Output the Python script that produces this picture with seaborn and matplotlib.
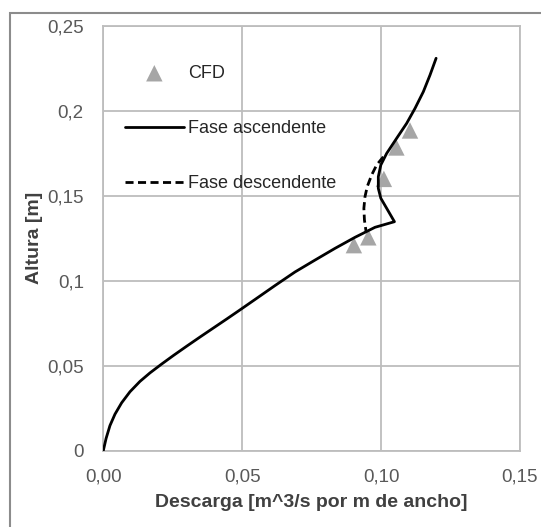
import matplotlib
matplotlib.use("Agg")
import matplotlib.pyplot as plt
import seaborn as sns
import pandas as pd
from matplotlib.patches import Rectangle
from matplotlib.ticker import FixedLocator, FixedFormatter

# ---- data ----
asc_x = [0.0, 0.0010, 0.0024, 0.0042, 0.0066, 0.0096, 0.0132, 0.0168, 0.0210, 0.0252,
         0.0300, 0.0348, 0.0396, 0.0444, 0.0486, 0.0546, 0.0618, 0.0690, 0.0762,
         0.0834, 0.0906, 0.0978, 0.1048, 0.1020, 0.0999, 0.0990, 0.0990, 0.0999,
         0.1020, 0.1056, 0.1092, 0.1122, 0.1152, 0.1176, 0.1198]
asc_y = [0.0, 0.0072, 0.0148, 0.0215, 0.0282, 0.0347, 0.0408, 0.0458, 0.0510, 0.0560,
         0.0615, 0.0669, 0.0722, 0.0775, 0.0822, 0.0890, 0.0972, 0.1052, 0.1122,
         0.1191, 0.1256, 0.1315, 0.1348, 0.1427, 0.1486, 0.1544, 0.1613, 0.1682,
         0.1750, 0.1839, 0.1927, 0.2015, 0.2113, 0.2211, 0.2310]

desc_x = [0.1008, 0.0984, 0.0966, 0.0950, 0.0942, 0.0938, 0.0940, 0.0946]
desc_y = [0.1730, 0.1682, 0.1623, 0.1554, 0.1495, 0.1427, 0.1358, 0.1289]

cfd_x = [0.1104, 0.1055, 0.1010, 0.0954, 0.0902]
cfd_y = [0.1885, 0.1785, 0.1600, 0.1256, 0.1210]

xticks = [0.0, 0.05, 0.10, 0.15]
xtick_labels = ["0,00", "0,05", "0,10", "0,15"]
yticks = [0.0, 0.05, 0.10, 0.15, 0.20, 0.25]
ytick_labels = ["0", "0,05", "0,1", "0,15", "0,2", "0,25"]

x_label = "Descarga [m^3/s por m de ancho]"
y_label = "Altura [m]"
labels = ["CFD", "Fase ascendente", "Fase descendente"]

# ---- styling ----
sns.set_theme(style="whitegrid")
plt.rcParams["font.family"] = ["Liberation Sans", "DejaVu Sans"]

W, H = 541, 527
fig = plt.figure(figsize=(W / 100, H / 100), dpi=100)
ax = fig.add_axes([103.3 / W, 1 - 450.7 / H, (520 - 103.3) / W, (450.7 - 26) / H])

grid_c = "#bdbdbd"
df_asc = pd.DataFrame({"x": asc_x, "y": asc_y})
df_desc = pd.DataFrame({"x": desc_x, "y": desc_y})
df_cfd = pd.DataFrame({"x": cfd_x, "y": cfd_y})

sns.scatterplot(data=df_cfd, x="x", y="y", marker="^", s=140, color="#a6a6a6",
                edgecolor="none", ax=ax, zorder=2, label=labels[0])
sns.lineplot(data=df_asc, x="x", y="y", sort=False, estimator=None, color="black",
             lw=2.0, ax=ax, zorder=4, label=labels[1])
sns.lineplot(data=df_desc, x="x", y="y", sort=False, estimator=None, color="black",
             lw=2.0, ax=ax, zorder=3, label=labels[2])
ax.lines[-1].set_dashes([2.9, 1.6])
for ln in ax.lines:
    ln.set_solid_joinstyle("round")
    ln.set_dash_joinstyle("round")

ax.set_xlim(0, 0.15)
ax.set_ylim(0, 0.25)
ax.xaxis.set_major_locator(FixedLocator(xticks))
ax.xaxis.set_major_formatter(FixedFormatter(xtick_labels))
ax.yaxis.set_major_locator(FixedLocator(yticks))
ax.yaxis.set_major_formatter(FixedFormatter(ytick_labels))

ax.grid(True, color=grid_c, lw=1.3)
ax.set_axisbelow(True)
for s in ax.spines.values():
    s.set_visible(True)
    s.set_color(grid_c)
    s.set_linewidth(1.3)
ax.tick_params(axis="both", which="major", length=6, width=1.3, color=grid_c,
               labelsize=13.5, labelcolor="#595959")
ax.tick_params(axis="y", pad=8)
ax.tick_params(axis="x", pad=7)
ax.set_facecolor("white")

ax.set_xlabel(x_label, fontsize=14, fontweight="bold", color="#404040", labelpad=6)
ax.set_ylabel(y_label, fontsize=14, fontweight="bold", color="#404040", labelpad=3)

leg = ax.legend(loc="upper left", bbox_to_anchor=((125 - 103.3) / 416.7, (450.7 - 65) / 424.7),
                frameon=False, fontsize=13, handlelength=3.25, handletextpad=0.22,
                labelspacing=2.1, borderpad=0, borderaxespad=0, markerscale=1.0)
for t in leg.get_texts():
    t.set_color("#262626")

fig.patches.append(Rectangle((10 / W, -0.02), 1.05, 1 - 13 / H + 0.02,
                             transform=fig.transFigure, fill=False,
                             edgecolor="#8c8c8c", lw=1.5, zorder=0))

fig.savefig("out.png", dpi=100, facecolor="white")
